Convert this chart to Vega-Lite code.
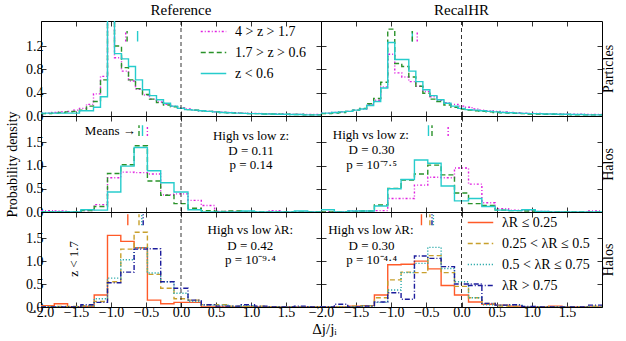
{
"$schema": "https://vega.github.io/schema/vega-lite/v6.json",
"padding": {"left": 5, "top": 2, "right": 2, "bottom": 2},
"title": {"text": "Δj/jᵢ", "orient": "bottom", "anchor": "middle", "fontSize": 15, "offset": 2, "dx": 14},
"datasets": {
"h": [
{"p":"1L","s":"a","x":-2,"y":0.05},{"p":"1L","s":"a","x":-1.85,"y":0.06},{"p":"1L","s":"a","x":-1.75,"y":0.07},{"p":"1L","s":"a","x":-1.65,"y":0.08},{"p":"1L","s":"a","x":-1.55,"y":0.1},{"p":"1L","s":"a","x":-1.45,"y":0.13},{"p":"1L","s":"a","x":-1.35,"y":0.2},{"p":"1L","s":"a","x":-1.25,"y":0.38},{"p":"1L","s":"a","x":-1.15,"y":0.68},{"p":"1L","s":"a","x":-1.05,"y":2.6},{"p":"1L","s":"a","x":-0.95,"y":1.0},{"p":"1L","s":"a","x":-0.85,"y":0.77},{"p":"1L","s":"a","x":-0.75,"y":0.6},{"p":"1L","s":"a","x":-0.65,"y":0.46},{"p":"1L","s":"a","x":-0.55,"y":0.36},{"p":"1L","s":"a","x":-0.45,"y":0.29},{"p":"1L","s":"a","x":-0.35,"y":0.24},{"p":"1L","s":"a","x":-0.25,"y":0.2},{"p":"1L","s":"a","x":-0.15,"y":0.17},{"p":"1L","s":"a","x":-0.05,"y":0.14},{"p":"1L","s":"a","x":0.05,"y":0.12},{"p":"1L","s":"a","x":0.15,"y":0.1},{"p":"1L","s":"a","x":0.25,"y":0.09},{"p":"1L","s":"a","x":0.35,"y":0.08},{"p":"1L","s":"a","x":0.45,"y":0.07},{"p":"1L","s":"a","x":0.55,"y":0.065},{"p":"1L","s":"a","x":0.65,"y":0.06},{"p":"1L","s":"a","x":0.75,"y":0.055},{"p":"1L","s":"a","x":0.85,"y":0.05},{"p":"1L","s":"a","x":0.95,"y":0.045},{"p":"1L","s":"a","x":1.15,"y":0.04},{"p":"1L","s":"a","x":1.35,"y":0.035},{"p":"1L","s":"a","x":1.55,"y":0.03},{"p":"1L","s":"a","x":1.75,"y":0.025},{"p":"1L","s":"a","x":2,"y":0.025},
{"p":"1L","s":"b","x":-2,"y":0.04},{"p":"1L","s":"b","x":-1.85,"y":0.05},{"p":"1L","s":"b","x":-1.75,"y":0.06},{"p":"1L","s":"b","x":-1.65,"y":0.07},{"p":"1L","s":"b","x":-1.55,"y":0.08},{"p":"1L","s":"b","x":-1.45,"y":0.1},{"p":"1L","s":"b","x":-1.35,"y":0.17},{"p":"1L","s":"b","x":-1.25,"y":0.25},{"p":"1L","s":"b","x":-1.15,"y":0.62},{"p":"1L","s":"b","x":-1.05,"y":2.6},{"p":"1L","s":"b","x":-0.95,"y":1.2},{"p":"1L","s":"b","x":-0.85,"y":0.83},{"p":"1L","s":"b","x":-0.75,"y":0.62},{"p":"1L","s":"b","x":-0.65,"y":0.47},{"p":"1L","s":"b","x":-0.55,"y":0.37},{"p":"1L","s":"b","x":-0.45,"y":0.29},{"p":"1L","s":"b","x":-0.35,"y":0.23},{"p":"1L","s":"b","x":-0.25,"y":0.19},{"p":"1L","s":"b","x":-0.15,"y":0.16},{"p":"1L","s":"b","x":-0.05,"y":0.13},{"p":"1L","s":"b","x":0.05,"y":0.11},{"p":"1L","s":"b","x":0.15,"y":0.1},{"p":"1L","s":"b","x":0.25,"y":0.09},{"p":"1L","s":"b","x":0.35,"y":0.08},{"p":"1L","s":"b","x":0.45,"y":0.07},{"p":"1L","s":"b","x":0.55,"y":0.06},{"p":"1L","s":"b","x":0.65,"y":0.055},{"p":"1L","s":"b","x":0.75,"y":0.05},{"p":"1L","s":"b","x":0.85,"y":0.045},{"p":"1L","s":"b","x":0.95,"y":0.04},{"p":"1L","s":"b","x":1.15,"y":0.035},{"p":"1L","s":"b","x":1.35,"y":0.03},{"p":"1L","s":"b","x":1.55,"y":0.025},{"p":"1L","s":"b","x":1.75,"y":0.02},{"p":"1L","s":"b","x":2,"y":0.02},
{"p":"1L","s":"c","x":-2,"y":0.05},{"p":"1L","s":"c","x":-1.45,"y":0.09},{"p":"1L","s":"c","x":-1.25,"y":0.15},{"p":"1L","s":"c","x":-1.15,"y":0.33},{"p":"1L","s":"c","x":-1.05,"y":2.6},{"p":"1L","s":"c","x":-0.95,"y":1.07},{"p":"1L","s":"c","x":-0.85,"y":0.98},{"p":"1L","s":"c","x":-0.75,"y":0.85},{"p":"1L","s":"c","x":-0.65,"y":0.62},{"p":"1L","s":"c","x":-0.55,"y":0.45},{"p":"1L","s":"c","x":-0.45,"y":0.35},{"p":"1L","s":"c","x":-0.35,"y":0.28},{"p":"1L","s":"c","x":-0.25,"y":0.22},{"p":"1L","s":"c","x":-0.15,"y":0.17},{"p":"1L","s":"c","x":-0.05,"y":0.13},{"p":"1L","s":"c","x":0.05,"y":0.11},{"p":"1L","s":"c","x":0.15,"y":0.1},{"p":"1L","s":"c","x":0.25,"y":0.09},{"p":"1L","s":"c","x":0.35,"y":0.08},{"p":"1L","s":"c","x":0.45,"y":0.07},{"p":"1L","s":"c","x":0.55,"y":0.06},{"p":"1L","s":"c","x":0.65,"y":0.055},{"p":"1L","s":"c","x":0.75,"y":0.05},{"p":"1L","s":"c","x":0.85,"y":0.045},{"p":"1L","s":"c","x":0.95,"y":0.04},{"p":"1L","s":"c","x":1.15,"y":0.035},{"p":"1L","s":"c","x":1.35,"y":0.03},{"p":"1L","s":"c","x":1.55,"y":0.025},{"p":"1L","s":"c","x":1.75,"y":0.02},{"p":"1L","s":"c","x":2,"y":0.02},

{"p":"1R","s":"a","x":-2,"y":0.05},{"p":"1R","s":"a","x":-1.85,"y":0.06},{"p":"1R","s":"a","x":-1.75,"y":0.07},{"p":"1R","s":"a","x":-1.65,"y":0.08},{"p":"1R","s":"a","x":-1.55,"y":0.1},{"p":"1R","s":"a","x":-1.45,"y":0.12},{"p":"1R","s":"a","x":-1.35,"y":0.2},{"p":"1R","s":"a","x":-1.25,"y":0.27},{"p":"1R","s":"a","x":-1.15,"y":0.5},{"p":"1R","s":"a","x":-1.05,"y":1.06},{"p":"1R","s":"a","x":-0.95,"y":0.74},{"p":"1R","s":"a","x":-0.85,"y":0.67},{"p":"1R","s":"a","x":-0.75,"y":0.59},{"p":"1R","s":"a","x":-0.65,"y":0.51},{"p":"1R","s":"a","x":-0.55,"y":0.42},{"p":"1R","s":"a","x":-0.45,"y":0.33},{"p":"1R","s":"a","x":-0.35,"y":0.27},{"p":"1R","s":"a","x":-0.25,"y":0.23},{"p":"1R","s":"a","x":-0.15,"y":0.2},{"p":"1R","s":"a","x":-0.05,"y":0.17},{"p":"1R","s":"a","x":0.05,"y":0.15},{"p":"1R","s":"a","x":0.15,"y":0.12},{"p":"1R","s":"a","x":0.25,"y":0.1},{"p":"1R","s":"a","x":0.35,"y":0.09},{"p":"1R","s":"a","x":0.45,"y":0.08},{"p":"1R","s":"a","x":0.55,"y":0.07},{"p":"1R","s":"a","x":0.65,"y":0.06},{"p":"1R","s":"a","x":0.75,"y":0.055},{"p":"1R","s":"a","x":0.85,"y":0.05},{"p":"1R","s":"a","x":0.95,"y":0.045},{"p":"1R","s":"a","x":1.15,"y":0.04},{"p":"1R","s":"a","x":1.35,"y":0.035},{"p":"1R","s":"a","x":1.55,"y":0.03},{"p":"1R","s":"a","x":1.75,"y":0.025},{"p":"1R","s":"a","x":2,"y":0.025},
{"p":"1R","s":"b","x":-2,"y":0.04},{"p":"1R","s":"b","x":-1.85,"y":0.05},{"p":"1R","s":"b","x":-1.75,"y":0.06},{"p":"1R","s":"b","x":-1.65,"y":0.08},{"p":"1R","s":"b","x":-1.55,"y":0.1},{"p":"1R","s":"b","x":-1.45,"y":0.13},{"p":"1R","s":"b","x":-1.35,"y":0.21},{"p":"1R","s":"b","x":-1.25,"y":0.3},{"p":"1R","s":"b","x":-1.15,"y":0.58},{"p":"1R","s":"b","x":-1.05,"y":1.49},{"p":"1R","s":"b","x":-0.95,"y":0.9},{"p":"1R","s":"b","x":-0.85,"y":0.85},{"p":"1R","s":"b","x":-0.75,"y":0.67},{"p":"1R","s":"b","x":-0.65,"y":0.51},{"p":"1R","s":"b","x":-0.55,"y":0.39},{"p":"1R","s":"b","x":-0.45,"y":0.29},{"p":"1R","s":"b","x":-0.35,"y":0.25},{"p":"1R","s":"b","x":-0.25,"y":0.19},{"p":"1R","s":"b","x":-0.15,"y":0.15},{"p":"1R","s":"b","x":-0.05,"y":0.12},{"p":"1R","s":"b","x":0.05,"y":0.1},{"p":"1R","s":"b","x":0.15,"y":0.09},{"p":"1R","s":"b","x":0.25,"y":0.08},{"p":"1R","s":"b","x":0.35,"y":0.07},{"p":"1R","s":"b","x":0.45,"y":0.06},{"p":"1R","s":"b","x":0.55,"y":0.055},{"p":"1R","s":"b","x":0.65,"y":0.05},{"p":"1R","s":"b","x":0.75,"y":0.045},{"p":"1R","s":"b","x":0.85,"y":0.04},{"p":"1R","s":"b","x":0.95,"y":0.035},{"p":"1R","s":"b","x":1.15,"y":0.03},{"p":"1R","s":"b","x":1.35,"y":0.025},{"p":"1R","s":"b","x":1.55,"y":0.02},{"p":"1R","s":"b","x":2,"y":0.02},
{"p":"1R","s":"c","x":-2,"y":0.05},{"p":"1R","s":"c","x":-1.85,"y":0.06},{"p":"1R","s":"c","x":-1.75,"y":0.07},{"p":"1R","s":"c","x":-1.65,"y":0.08},{"p":"1R","s":"c","x":-1.55,"y":0.1},{"p":"1R","s":"c","x":-1.45,"y":0.12},{"p":"1R","s":"c","x":-1.35,"y":0.18},{"p":"1R","s":"c","x":-1.25,"y":0.25},{"p":"1R","s":"c","x":-1.15,"y":0.48},{"p":"1R","s":"c","x":-1.05,"y":1.26},{"p":"1R","s":"c","x":-0.95,"y":0.97},{"p":"1R","s":"c","x":-0.85,"y":0.97},{"p":"1R","s":"c","x":-0.75,"y":0.77},{"p":"1R","s":"c","x":-0.65,"y":0.59},{"p":"1R","s":"c","x":-0.55,"y":0.45},{"p":"1R","s":"c","x":-0.45,"y":0.35},{"p":"1R","s":"c","x":-0.35,"y":0.28},{"p":"1R","s":"c","x":-0.25,"y":0.22},{"p":"1R","s":"c","x":-0.15,"y":0.17},{"p":"1R","s":"c","x":-0.05,"y":0.13},{"p":"1R","s":"c","x":0.05,"y":0.11},{"p":"1R","s":"c","x":0.15,"y":0.1},{"p":"1R","s":"c","x":0.25,"y":0.09},{"p":"1R","s":"c","x":0.35,"y":0.08},{"p":"1R","s":"c","x":0.45,"y":0.07},{"p":"1R","s":"c","x":0.55,"y":0.06},{"p":"1R","s":"c","x":0.65,"y":0.055},{"p":"1R","s":"c","x":0.75,"y":0.05},{"p":"1R","s":"c","x":0.85,"y":0.045},{"p":"1R","s":"c","x":0.95,"y":0.04},{"p":"1R","s":"c","x":1.15,"y":0.035},{"p":"1R","s":"c","x":1.35,"y":0.03},{"p":"1R","s":"c","x":1.55,"y":0.025},{"p":"1R","s":"c","x":1.75,"y":0.02},{"p":"1R","s":"c","x":2,"y":0.02},

{"p":"2L","s":"a","x":-2,"y":0.03},{"p":"2L","s":"a","x":-1.81,"y":0.02},{"p":"2L","s":"a","x":-1.62,"y":0},{"p":"2L","s":"a","x":-1.43,"y":0.03},{"p":"2L","s":"a","x":-1.24,"y":0.16},{"p":"2L","s":"a","x":-1.05,"y":0.74},{"p":"2L","s":"a","x":-0.86,"y":0.86},{"p":"2L","s":"a","x":-0.67,"y":0.85},{"p":"2L","s":"a","x":-0.48,"y":0.82},{"p":"2L","s":"a","x":-0.29,"y":0.37},{"p":"2L","s":"a","x":-0.1,"y":0.39},{"p":"2L","s":"a","x":0.1,"y":0.25},{"p":"2L","s":"a","x":0.29,"y":0.14},{"p":"2L","s":"a","x":0.48,"y":0.01},{"p":"2L","s":"a","x":0.86,"y":0},{"p":"2L","s":"a","x":1.24,"y":0.03},{"p":"2L","s":"a","x":1.43,"y":0},{"p":"2L","s":"a","x":2,"y":0},
{"p":"2L","s":"b","x":-2,"y":0},{"p":"2L","s":"b","x":-1.43,"y":0.03},{"p":"2L","s":"b","x":-1.24,"y":0.12},{"p":"2L","s":"b","x":-1.05,"y":0.83},{"p":"2L","s":"b","x":-0.86,"y":1.02},{"p":"2L","s":"b","x":-0.67,"y":1.43},{"p":"2L","s":"b","x":-0.48,"y":0.67},{"p":"2L","s":"b","x":-0.29,"y":0.36},{"p":"2L","s":"b","x":-0.1,"y":0.18},{"p":"2L","s":"b","x":0.1,"y":0.08},{"p":"2L","s":"b","x":0.29,"y":0.03},{"p":"2L","s":"b","x":0.48,"y":0.01},{"p":"2L","s":"b","x":0.67,"y":0.02},{"p":"2L","s":"b","x":0.86,"y":0},{"p":"2L","s":"b","x":2,"y":0},
{"p":"2L","s":"c","x":-2,"y":0},{"p":"2L","s":"c","x":-1.43,"y":0.05},{"p":"2L","s":"c","x":-1.24,"y":0.04},{"p":"2L","s":"c","x":-1.05,"y":0.43},{"p":"2L","s":"c","x":-0.86,"y":0.99},{"p":"2L","s":"c","x":-0.67,"y":1.39},{"p":"2L","s":"c","x":-0.48,"y":0.89},{"p":"2L","s":"c","x":-0.29,"y":0.63},{"p":"2L","s":"c","x":-0.1,"y":0.43},{"p":"2L","s":"c","x":0.1,"y":0.05},{"p":"2L","s":"c","x":0.29,"y":0},{"p":"2L","s":"c","x":0.86,"y":0.02},{"p":"2L","s":"c","x":1.05,"y":0},{"p":"2L","s":"c","x":1.62,"y":0.02},{"p":"2L","s":"c","x":1.81,"y":0},{"p":"2L","s":"c","x":2,"y":0},

{"p":"2R","s":"a","x":-2,"y":0},{"p":"2R","s":"a","x":-1.62,"y":0.02},{"p":"2R","s":"a","x":-1.24,"y":0.03},{"p":"2R","s":"a","x":-1.05,"y":0.29},{"p":"2R","s":"a","x":-0.86,"y":0.29},{"p":"2R","s":"a","x":-0.67,"y":0.58},{"p":"2R","s":"a","x":-0.48,"y":0.75},{"p":"2R","s":"a","x":-0.29,"y":0.74},{"p":"2R","s":"a","x":-0.1,"y":0.95},{"p":"2R","s":"a","x":0.1,"y":0.6},{"p":"2R","s":"a","x":0.29,"y":0.2},{"p":"2R","s":"a","x":0.48,"y":0.07},{"p":"2R","s":"a","x":0.67,"y":0.04},{"p":"2R","s":"a","x":0.86,"y":0.03},{"p":"2R","s":"a","x":1.05,"y":0.01},{"p":"2R","s":"a","x":1.24,"y":0},{"p":"2R","s":"a","x":1.81,"y":0.02},{"p":"2R","s":"a","x":2,"y":0.02},
{"p":"2R","s":"b","x":-2,"y":0},{"p":"2R","s":"b","x":-1.43,"y":0.02},{"p":"2R","s":"b","x":-1.24,"y":0.15},{"p":"2R","s":"b","x":-1.05,"y":0.51},{"p":"2R","s":"b","x":-0.86,"y":0.69},{"p":"2R","s":"b","x":-0.67,"y":0.82},{"p":"2R","s":"b","x":-0.48,"y":1.01},{"p":"2R","s":"b","x":-0.29,"y":0.8},{"p":"2R","s":"b","x":-0.1,"y":0.41},{"p":"2R","s":"b","x":0.1,"y":0.18},{"p":"2R","s":"b","x":0.29,"y":0.14},{"p":"2R","s":"b","x":0.48,"y":0.04},{"p":"2R","s":"b","x":0.67,"y":0.03},{"p":"2R","s":"b","x":0.86,"y":0.02},{"p":"2R","s":"b","x":1.05,"y":0},{"p":"2R","s":"b","x":2,"y":0},
{"p":"2R","s":"c","x":-2,"y":0.05},{"p":"2R","s":"c","x":-1.81,"y":0},{"p":"2R","s":"c","x":-1.62,"y":0.02},{"p":"2R","s":"c","x":-1.24,"y":0.13},{"p":"2R","s":"c","x":-1.05,"y":0.5},{"p":"2R","s":"c","x":-0.86,"y":0.7},{"p":"2R","s":"c","x":-0.67,"y":1.12},{"p":"2R","s":"c","x":-0.48,"y":1.05},{"p":"2R","s":"c","x":-0.29,"y":0.56},{"p":"2R","s":"c","x":-0.1,"y":0.24},{"p":"2R","s":"c","x":0.1,"y":0.29},{"p":"2R","s":"c","x":0.29,"y":0.12},{"p":"2R","s":"c","x":0.48,"y":0.04},{"p":"2R","s":"c","x":0.67,"y":0.03},{"p":"2R","s":"c","x":0.86,"y":0.05},{"p":"2R","s":"c","x":1.05,"y":0.01},{"p":"2R","s":"c","x":1.24,"y":0},{"p":"2R","s":"c","x":2,"y":0},

{"p":"3L","s":"d","x":-2,"y":0.03},{"p":"3L","s":"d","x":-1.81,"y":0.07},{"p":"3L","s":"d","x":-1.62,"y":0},{"p":"3L","s":"d","x":-1.43,"y":0.01},{"p":"3L","s":"d","x":-1.24,"y":0.26},{"p":"3L","s":"d","x":-1.05,"y":1.56},{"p":"3L","s":"d","x":-0.86,"y":1.43},{"p":"3L","s":"d","x":-0.67,"y":1.29},{"p":"3L","s":"d","x":-0.48,"y":0.15},{"p":"3L","s":"d","x":-0.29,"y":0.07},{"p":"3L","s":"d","x":-0.1,"y":0.1},{"p":"3L","s":"d","x":0.1,"y":0.1},{"p":"3L","s":"d","x":0.29,"y":0},{"p":"3L","s":"d","x":2,"y":0},
{"p":"3L","s":"e","x":-2,"y":0.01},{"p":"3L","s":"e","x":-1.43,"y":0.03},{"p":"3L","s":"e","x":-1.24,"y":0.12},{"p":"3L","s":"e","x":-1.05,"y":0.55},{"p":"3L","s":"e","x":-0.86,"y":1.26},{"p":"3L","s":"e","x":-0.67,"y":1.63},{"p":"3L","s":"e","x":-0.48,"y":0.71},{"p":"3L","s":"e","x":-0.29,"y":0.41},{"p":"3L","s":"e","x":-0.1,"y":0.18},{"p":"3L","s":"e","x":0.1,"y":0.15},{"p":"3L","s":"e","x":0.29,"y":0.05},{"p":"3L","s":"e","x":0.48,"y":0.05},{"p":"3L","s":"e","x":0.67,"y":0.02},{"p":"3L","s":"e","x":0.86,"y":0.01},{"p":"3L","s":"e","x":1.05,"y":0.02},{"p":"3L","s":"e","x":1.24,"y":0},{"p":"3L","s":"e","x":2,"y":0},
{"p":"3L","s":"f","x":-2,"y":0},{"p":"3L","s":"f","x":-1.43,"y":0.02},{"p":"3L","s":"f","x":-1.24,"y":0.18},{"p":"3L","s":"f","x":-1.05,"y":0.63},{"p":"3L","s":"f","x":-0.86,"y":1.03},{"p":"3L","s":"f","x":-0.67,"y":1.29},{"p":"3L","s":"f","x":-0.48,"y":0.74},{"p":"3L","s":"f","x":-0.29,"y":0.55},{"p":"3L","s":"f","x":-0.1,"y":0.3},{"p":"3L","s":"f","x":0.1,"y":0.12},{"p":"3L","s":"f","x":0.29,"y":0.04},{"p":"3L","s":"f","x":0.48,"y":0.04},{"p":"3L","s":"f","x":0.67,"y":0.01},{"p":"3L","s":"f","x":0.86,"y":0.03},{"p":"3L","s":"f","x":1.05,"y":0},{"p":"3L","s":"f","x":2,"y":0},
{"p":"3L","s":"g","x":-2,"y":0},{"p":"3L","s":"g","x":-1.43,"y":0.05},{"p":"3L","s":"g","x":-1.24,"y":0.1},{"p":"3L","s":"g","x":-1.05,"y":0.53},{"p":"3L","s":"g","x":-0.86,"y":0.76},{"p":"3L","s":"g","x":-0.67,"y":1.26},{"p":"3L","s":"g","x":-0.48,"y":1.27},{"p":"3L","s":"g","x":-0.29,"y":0.55},{"p":"3L","s":"g","x":-0.1,"y":0.41},{"p":"3L","s":"g","x":0.1,"y":0.15},{"p":"3L","s":"g","x":0.29,"y":0.05},{"p":"3L","s":"g","x":0.48,"y":0.02},{"p":"3L","s":"g","x":0.67,"y":0.02},{"p":"3L","s":"g","x":0.86,"y":0.05},{"p":"3L","s":"g","x":1.05,"y":0.02},{"p":"3L","s":"g","x":1.24,"y":0},{"p":"3L","s":"g","x":1.62,"y":0.02},{"p":"3L","s":"g","x":1.81,"y":0},{"p":"3L","s":"g","x":2,"y":0},

{"p":"3R","s":"d","x":-2,"y":0},{"p":"3R","s":"d","x":-1.62,"y":0.02},{"p":"3R","s":"d","x":-1.43,"y":0.03},{"p":"3R","s":"d","x":-1.24,"y":0.26},{"p":"3R","s":"d","x":-1.05,"y":0.92},{"p":"3R","s":"d","x":-0.86,"y":0.93},{"p":"3R","s":"d","x":-0.67,"y":1.0},{"p":"3R","s":"d","x":-0.48,"y":0.83},{"p":"3R","s":"d","x":-0.29,"y":0.47},{"p":"3R","s":"d","x":-0.1,"y":0.26},{"p":"3R","s":"d","x":0.1,"y":0.11},{"p":"3R","s":"d","x":0.29,"y":0.06},{"p":"3R","s":"d","x":0.48,"y":0.04},{"p":"3R","s":"d","x":0.67,"y":0.02},{"p":"3R","s":"d","x":0.86,"y":0},{"p":"3R","s":"d","x":1.24,"y":0.02},{"p":"3R","s":"d","x":1.43,"y":0},{"p":"3R","s":"d","x":2,"y":0},
{"p":"3R","s":"e","x":-2,"y":0},{"p":"3R","s":"e","x":-1.62,"y":0.02},{"p":"3R","s":"e","x":-1.43,"y":0.03},{"p":"3R","s":"e","x":-1.24,"y":0.2},{"p":"3R","s":"e","x":-1.05,"y":0.59},{"p":"3R","s":"e","x":-0.86,"y":0.76},{"p":"3R","s":"e","x":-0.67,"y":0.75},{"p":"3R","s":"e","x":-0.48,"y":1.12},{"p":"3R","s":"e","x":-0.29,"y":0.75},{"p":"3R","s":"e","x":-0.1,"y":0.45},{"p":"3R","s":"e","x":0.1,"y":0.2},{"p":"3R","s":"e","x":0.29,"y":0.08},{"p":"3R","s":"e","x":0.48,"y":0.02},{"p":"3R","s":"e","x":0.67,"y":0},{"p":"3R","s":"e","x":1.81,"y":0.02},{"p":"3R","s":"e","x":2,"y":0.02},
{"p":"3R","s":"f","x":-2,"y":0},{"p":"3R","s":"f","x":-1.43,"y":0.02},{"p":"3R","s":"f","x":-1.24,"y":0.1},{"p":"3R","s":"f","x":-1.05,"y":0.37},{"p":"3R","s":"f","x":-0.86,"y":0.75},{"p":"3R","s":"f","x":-0.67,"y":0.95},{"p":"3R","s":"f","x":-0.48,"y":1.3},{"p":"3R","s":"f","x":-0.29,"y":0.84},{"p":"3R","s":"f","x":-0.1,"y":0.55},{"p":"3R","s":"f","x":0.1,"y":0.2},{"p":"3R","s":"f","x":0.29,"y":0.05},{"p":"3R","s":"f","x":0.48,"y":0.04},{"p":"3R","s":"f","x":0.67,"y":0.04},{"p":"3R","s":"f","x":0.86,"y":0},{"p":"3R","s":"f","x":2,"y":0},
{"p":"3R","s":"g","x":-2,"y":0},{"p":"3R","s":"g","x":-1.81,"y":0.06},{"p":"3R","s":"g","x":-1.62,"y":0},{"p":"3R","s":"g","x":-1.43,"y":0.02},{"p":"3R","s":"g","x":-1.24,"y":0.11},{"p":"3R","s":"g","x":-1.05,"y":0.31},{"p":"3R","s":"g","x":-0.86,"y":0.17},{"p":"3R","s":"g","x":-0.67,"y":1.11},{"p":"3R","s":"g","x":-0.48,"y":1.06},{"p":"3R","s":"g","x":-0.29,"y":0.88},{"p":"3R","s":"g","x":-0.1,"y":0.5},{"p":"3R","s":"g","x":0.1,"y":0.5},{"p":"3R","s":"g","x":0.29,"y":0.08},{"p":"3R","s":"g","x":0.48,"y":0.04},{"p":"3R","s":"g","x":0.67,"y":0.05},{"p":"3R","s":"g","x":0.86,"y":0.01},{"p":"3R","s":"g","x":1.05,"y":0},{"p":"3R","s":"g","x":1.81,"y":0.04},{"p":"3R","s":"g","x":2,"y":0.04}
],
"m": [
{"p":"1L","s":"a","x":-0.79,"y":1.28,"y2":1.46},{"p":"1L","s":"b","x":-0.77,"y":1.28,"y2":1.46},{"p":"1L","s":"c","x":-0.62,"y":1.28,"y2":1.46},
{"p":"1R","s":"c","x":-0.7,"y":1.28,"y2":1.46},{"p":"1R","s":"b","x":-0.7,"y":1.28,"y2":1.46},{"p":"1R","s":"a","x":-0.63,"y":1.28,"y2":1.46},
{"p":"2L","s":"b","x":-0.6,"y":1.64,"y2":1.87},{"p":"2L","s":"c","x":-0.55,"y":1.64,"y2":1.87},{"p":"2L","s":"a","x":-0.48,"y":1.64,"y2":1.87},
{"p":"2R","s":"c","x":-0.47,"y":1.64,"y2":1.87},{"p":"2R","s":"b","x":-0.42,"y":1.64,"y2":1.87},{"p":"2R","s":"a","x":-0.19,"y":1.64,"y2":1.87},
{"p":"3L","s":"d","x":-0.76,"y":1.78,"y2":2.02},{"p":"3L","s":"e","x":-0.6,"y":1.78,"y2":2.02},{"p":"3L","s":"f","x":-0.56,"y":1.78,"y2":2.02},{"p":"3L","s":"g","x":-0.54,"y":1.78,"y2":2.02},
{"p":"3R","s":"d","x":-0.57,"y":1.78,"y2":2.02},{"p":"3R","s":"e","x":-0.45,"y":1.78,"y2":2.02},{"p":"3R","s":"g","x":-0.42,"y":1.78,"y2":2.02},{"p":"3R","s":"f","x":-0.4,"y":1.78,"y2":2.02}
],
"t": [
{"p":"2L","x":-1.01,"y":1.74,"t":"Means →"},
{"p":"2L","x":1.0,"y":1.64,"t":"High vs low z:"},{"p":"2L","x":1.0,"y":1.32,"t":"D = 0.11"},{"p":"2L","x":1.0,"y":1.02,"t":"p = 0.14"},
{"p":"2R","x":-1.29,"y":1.67,"t":"High vs low z:"},{"p":"2R","x":-1.28,"y":1.33,"t":"D = 0.30"},{"p":"2R","x":-1.28,"y":1.01,"t":"p = 10⁻⁷·⁵"},
{"p":"3L","x":0.99,"y":1.67,"t":"High vs low λR:"},{"p":"3L","x":0.99,"y":1.34,"t":"D = 0.42"},{"p":"3L","x":0.99,"y":1.03,"t":"p = 10⁻⁹·⁴"},
{"p":"3R","x":-1.29,"y":1.67,"t":"High vs low λR:"},{"p":"3R","x":-1.28,"y":1.34,"t":"D = 0.30"},{"p":"3R","x":-1.28,"y":1.03,"t":"p = 10⁻⁴·⁴"}
],
"v": [{"p":"3L","x":-1.53,"y":1.05,"t":"z < 1.7"}],
"z0": [{"x":0}]
},
"concat": [
{"width":280,"height":95,"title":{"text":"Reference","offset":0},
 "layer":[
 {"data":{"name":"h"},"transform":[{"filter":"datum.p=='1L'"}],"mark":{"type":"line","interpolate":"step-after","clip":true,"strokeWidth":1.4},
  "encoding":{"x":{"field":"x","type":"quantitative","scale":{"domain":[-2,2],"nice":false,"zero":false},"axis":{"values":[-2,-1.5,-1,-0.5,0,0.5,1,1.5],"labels":false,"title":null}},
   "y":{"field":"y","type":"quantitative","scale":{"domain":[0,1.63],"nice":false},"axis":{"values":[0,0.4,0.8,1.2],"format":".1f","title":null}},
   "color":{"field":"s","type":"nominal","scale":{"domain":["a","b","c"],"range":["#E020E0","#2A922A","#26CCCC"]},"legend":{"title":null,"orient":"none","legendX":159,"legendY":-3,"padding":0,"rowPadding":-2,"labelOffset":8,"symbolType":"stroke","symbolSize":650,"symbolStrokeWidth":1.5,"labelExpr":"{'a':'4 > z > 1.7','b':'1.7 > z > 0.6','c':'z < 0.6'}[datum.label]"}},
   "strokeDash":{"field":"s","type":"nominal","scale":{"domain":["a","b","c"],"range":[[2,2,1,2],[5,3],[1,0]]},"legend":{"title":null,"orient":"none","legendX":159,"legendY":-3,"padding":0,"rowPadding":-2,"labelOffset":8,"symbolType":"stroke","symbolSize":650,"symbolStrokeWidth":1.5,"labelExpr":"{'a':'4 > z > 1.7','b':'1.7 > z > 0.6','c':'z < 0.6'}[datum.label]"}}}},
 {"data":{"name":"m"},"transform":[{"filter":"datum.p=='1L'"}],"mark":{"type":"rule","strokeWidth":1.4},
  "encoding":{"x":{"field":"x","type":"quantitative","axis":{"orient":"top","values":[-2,-1.5,-1,-0.5,0,0.5,1,1.5],"labels":false,"title":null}},
   "y":{"field":"y","type":"quantitative","axis":{"orient":"right","values":[0,0.4,0.8,1.2],"labels":false,"title":null}},"y2":{"field":"y2"},
   "color":{"field":"s","type":"nominal","legend":null},"strokeDash":{"field":"s","type":"nominal","legend":null}}},
 {"data":{"name":"z0"},"mark":{"type":"rule","strokeDash":[4,3],"color":"black","strokeWidth":0.8},"encoding":{"x":{"field":"x","type":"quantitative","axis":null}}}
 ],
 "resolve":{"axis":{"x":"independent","y":"independent"}}},

{"width":281,"height":95,"title":"RecalHR",
 "layer":[
 {"data":{"name":"h"},"transform":[{"filter":"datum.p=='1R'"}],"mark":{"type":"line","interpolate":"step-after","clip":true,"strokeWidth":1.4},
  "encoding":{"x":{"field":"x","type":"quantitative","scale":{"domain":[-2,2],"nice":false,"zero":false},"axis":{"values":[-2,-1.5,-1,-0.5,0,0.5,1,1.5],"labels":false,"title":null}},
   "y":{"field":"y","type":"quantitative","scale":{"domain":[0,1.63],"nice":false},"axis":{"values":[0,0.4,0.8,1.2],"labels":false,"title":null}},
   "color":{"field":"s","type":"nominal","scale":{"domain":["a","b","c"],"range":["#E020E0","#2A922A","#26CCCC"]},"legend":null},
   "strokeDash":{"field":"s","type":"nominal","scale":{"domain":["a","b","c"],"range":[[2,2,1,2],[5,3],[1,0]]},"legend":null}}},
 {"data":{"name":"m"},"transform":[{"filter":"datum.p=='1R'"}],"mark":{"type":"rule","strokeWidth":1.4},
  "encoding":{"x":{"field":"x","type":"quantitative","axis":{"orient":"top","values":[-2,-1.5,-1,-0.5,0,0.5,1,1.5],"labels":false,"title":null}},
   "y":{"field":"y","type":"quantitative","axis":{"orient":"right","values":[0,0.4,0.8,1.2],"labels":false,"title":"Particles","titleAngle":270,"titlePadding":13}},"y2":{"field":"y2"},
   "color":{"field":"s","type":"nominal","legend":null},"strokeDash":{"field":"s","type":"nominal","legend":null}}},
 {"data":{"name":"z0"},"mark":{"type":"rule","strokeDash":[4,3],"color":"black","strokeWidth":0.8},"encoding":{"x":{"field":"x","type":"quantitative","axis":null}}}
 ],
 "resolve":{"axis":{"x":"independent","y":"independent"}}},

{"width":280,"height":96,
 "layer":[
 {"data":{"name":"h"},"transform":[{"filter":"datum.p=='2L'"}],"mark":{"type":"line","interpolate":"step-after","clip":true,"strokeWidth":1.4},
  "encoding":{"x":{"field":"x","type":"quantitative","scale":{"domain":[-2,2],"nice":false,"zero":false},"axis":{"values":[-2,-1.5,-1,-0.5,0,0.5,1,1.5],"labels":false,"title":null}},
   "y":{"field":"y","type":"quantitative","scale":{"domain":[0,2.07],"nice":false},"axis":{"values":[0,0.5,1,1.5],"format":".1f","title":"Probability density","titlePadding":6}},
   "color":{"field":"s","type":"nominal","scale":{"domain":["a","b","c"],"range":["#E020E0","#2A922A","#26CCCC"]},"legend":null},
   "strokeDash":{"field":"s","type":"nominal","scale":{"domain":["a","b","c"],"range":[[2,2,1,2],[5,3],[1,0]]},"legend":null}}},
 {"data":{"name":"m"},"transform":[{"filter":"datum.p=='2L'"}],"mark":{"type":"rule","strokeWidth":1.4},
  "encoding":{"x":{"field":"x","type":"quantitative","axis":{"orient":"top","values":[-2,-1.5,-1,-0.5,0,0.5,1,1.5],"labels":false,"title":null}},
   "y":{"field":"y","type":"quantitative","axis":{"orient":"right","values":[0,0.5,1,1.5],"labels":false,"title":null}},"y2":{"field":"y2"},
   "color":{"field":"s","type":"nominal","legend":null},"strokeDash":{"field":"s","type":"nominal","legend":null}}},
 {"data":{"name":"z0"},"mark":{"type":"rule","strokeDash":[4,3],"color":"black","strokeWidth":0.8},"encoding":{"x":{"field":"x","type":"quantitative","axis":null}}},
 {"data":{"name":"t"},"transform":[{"filter":"datum.p=='2L'"}],"mark":{"type":"text","fontSize":13,"fontWeight":"normal","align":"center","baseline":"middle"},
  "encoding":{"x":{"field":"x","type":"quantitative","axis":null},"y":{"field":"y","type":"quantitative","axis":null},"text":{"field":"t"}}}
 ],
 "resolve":{"axis":{"x":"independent","y":"independent"}}},

{"width":281,"height":96,
 "layer":[
 {"data":{"name":"h"},"transform":[{"filter":"datum.p=='2R'"}],"mark":{"type":"line","interpolate":"step-after","clip":true,"strokeWidth":1.4},
  "encoding":{"x":{"field":"x","type":"quantitative","scale":{"domain":[-2,2],"nice":false,"zero":false},"axis":{"values":[-2,-1.5,-1,-0.5,0,0.5,1,1.5],"labels":false,"title":null}},
   "y":{"field":"y","type":"quantitative","scale":{"domain":[0,2.07],"nice":false},"axis":{"values":[0,0.5,1,1.5],"labels":false,"title":null}},
   "color":{"field":"s","type":"nominal","scale":{"domain":["a","b","c"],"range":["#E020E0","#2A922A","#26CCCC"]},"legend":null},
   "strokeDash":{"field":"s","type":"nominal","scale":{"domain":["a","b","c"],"range":[[2,2,1,2],[5,3],[1,0]]},"legend":null}}},
 {"data":{"name":"m"},"transform":[{"filter":"datum.p=='2R'"}],"mark":{"type":"rule","strokeWidth":1.4},
  "encoding":{"x":{"field":"x","type":"quantitative","axis":{"orient":"top","values":[-2,-1.5,-1,-0.5,0,0.5,1,1.5],"labels":false,"title":null}},
   "y":{"field":"y","type":"quantitative","axis":{"orient":"right","values":[0,0.5,1,1.5],"labels":false,"title":"Halos","titleAngle":270,"titlePadding":13}},"y2":{"field":"y2"},
   "color":{"field":"s","type":"nominal","legend":null},"strokeDash":{"field":"s","type":"nominal","legend":null}}},
 {"data":{"name":"z0"},"mark":{"type":"rule","strokeDash":[4,3],"color":"black","strokeWidth":0.8},"encoding":{"x":{"field":"x","type":"quantitative","axis":null}}},
 {"data":{"name":"t"},"transform":[{"filter":"datum.p=='2R'"}],"mark":{"type":"text","fontSize":13,"fontWeight":"normal","align":"center","baseline":"middle"},
  "encoding":{"x":{"field":"x","type":"quantitative","axis":null},"y":{"field":"y","type":"quantitative","axis":null},"text":{"field":"t"}}}
 ],
 "resolve":{"axis":{"x":"independent","y":"independent"}}},

{"width":280,"height":95,
 "layer":[
 {"data":{"name":"h"},"transform":[{"filter":"datum.p=='3L'"}],"mark":{"type":"line","interpolate":"step-after","clip":true,"strokeWidth":1.4},
  "encoding":{"x":{"field":"x","type":"quantitative","scale":{"domain":[-2,2],"nice":false,"zero":false},"axis":{"values":[-2,-1.5,-1,-0.5,0,0.5,1,1.5],"format":".1f","title":null}},
   "y":{"field":"y","type":"quantitative","scale":{"domain":[0,2.07],"nice":false},"axis":{"values":[0,0.5,1,1.5],"format":".1f","title":null}},
   "color":{"field":"s","type":"nominal","scale":{"domain":["d","e","f","g"],"range":["#FF5A28","#C8A02C","#2AAAAA","#1C1C9C"]},"legend":null},
   "strokeDash":{"field":"s","type":"nominal","scale":{"domain":["d","e","f","g"],"range":[[1,0],[5,3],[1.2,1.8],[5,2,1,2]]},"legend":null}}},
 {"data":{"name":"m"},"transform":[{"filter":"datum.p=='3L'"}],"mark":{"type":"rule","strokeWidth":1.4},
  "encoding":{"x":{"field":"x","type":"quantitative","axis":{"orient":"top","values":[-2,-1.5,-1,-0.5,0,0.5,1,1.5],"labels":false,"title":null}},
   "y":{"field":"y","type":"quantitative","axis":{"orient":"right","values":[0,0.5,1,1.5],"labels":false,"title":null}},"y2":{"field":"y2"},
   "color":{"field":"s","type":"nominal","legend":null},"strokeDash":{"field":"s","type":"nominal","legend":null}}},
 {"data":{"name":"z0"},"mark":{"type":"rule","strokeDash":[4,3],"color":"black","strokeWidth":0.8},"encoding":{"x":{"field":"x","type":"quantitative","axis":null}}},
 {"data":{"name":"t"},"transform":[{"filter":"datum.p=='3L'"}],"mark":{"type":"text","fontSize":13,"fontWeight":"normal","align":"center","baseline":"middle"},
  "encoding":{"x":{"field":"x","type":"quantitative","axis":null},"y":{"field":"y","type":"quantitative","axis":null},"text":{"field":"t"}}},
 {"data":{"name":"v"},"mark":{"type":"text","fontSize":13,"fontWeight":"normal","align":"center","baseline":"middle","angle":270},
  "encoding":{"x":{"field":"x","type":"quantitative","axis":null},"y":{"field":"y","type":"quantitative","axis":null},"text":{"field":"t"}}}
 ],
 "resolve":{"axis":{"x":"independent","y":"independent"}}},

{"width":281,"height":95,
 "layer":[
 {"data":{"name":"h"},"transform":[{"filter":"datum.p=='3R'"}],"mark":{"type":"line","interpolate":"step-after","clip":true,"strokeWidth":1.4},
  "encoding":{"x":{"field":"x","type":"quantitative","scale":{"domain":[-2,2],"nice":false,"zero":false},"axis":{"values":[-2,-1.5,-1,-0.5,0,0.5,1,1.5],"format":".1f","title":null}},
   "y":{"field":"y","type":"quantitative","scale":{"domain":[0,2.07],"nice":false},"axis":{"values":[0,0.5,1,1.5],"labels":false,"title":null}},
   "color":{"field":"s","type":"nominal","scale":{"domain":["d","e","f","g"],"range":["#FF5A28","#C8A02C","#2AAAAA","#1C1C9C"]},"legend":{"title":null,"orient":"none","legendX":146,"legendY":-3,"padding":0,"rowPadding":-2,"labelOffset":8,"symbolType":"stroke","symbolSize":650,"symbolStrokeWidth":1.5,"labelExpr":"{'d':'λR ≤ 0.25','e':'0.25 < λR ≤ 0.5','f':'0.5 < λR ≤ 0.75','g':'λR > 0.75'}[datum.label]"}},
   "strokeDash":{"field":"s","type":"nominal","scale":{"domain":["d","e","f","g"],"range":[[1,0],[5,3],[1.2,1.8],[5,2,1,2]]},"legend":{"title":null,"orient":"none","legendX":146,"legendY":-3,"padding":0,"rowPadding":-2,"labelOffset":8,"symbolType":"stroke","symbolSize":650,"symbolStrokeWidth":1.5,"labelExpr":"{'d':'λR ≤ 0.25','e':'0.25 < λR ≤ 0.5','f':'0.5 < λR ≤ 0.75','g':'λR > 0.75'}[datum.label]"}}}},
 {"data":{"name":"m"},"transform":[{"filter":"datum.p=='3R'"}],"mark":{"type":"rule","strokeWidth":1.4},
  "encoding":{"x":{"field":"x","type":"quantitative","axis":{"orient":"top","values":[-2,-1.5,-1,-0.5,0,0.5,1,1.5],"labels":false,"title":null}},
   "y":{"field":"y","type":"quantitative","axis":{"orient":"right","values":[0,0.5,1,1.5],"labels":false,"title":"Halos","titleAngle":270,"titlePadding":13}},"y2":{"field":"y2"},
   "color":{"field":"s","type":"nominal","legend":null},"strokeDash":{"field":"s","type":"nominal","legend":null}}},
 {"data":{"name":"z0"},"mark":{"type":"rule","strokeDash":[4,3],"color":"black","strokeWidth":0.8},"encoding":{"x":{"field":"x","type":"quantitative","axis":null}}},
 {"data":{"name":"t"},"transform":[{"filter":"datum.p=='3R'"}],"mark":{"type":"text","fontSize":13,"fontWeight":"normal","align":"center","baseline":"middle"},
  "encoding":{"x":{"field":"x","type":"quantitative","axis":null},"y":{"field":"y","type":"quantitative","axis":null},"text":{"field":"t"}}}
 ],
 "resolve":{"axis":{"x":"independent","y":"independent"}}}
],
"columns": 2,
"spacing": 0,
"bounds": "flush",
"resolve": {"scale": {"color": "independent", "strokeDash": "independent"}, "legend": {"color": "independent", "strokeDash": "independent"}},
"config": {
 "font": "Liberation Serif",
 "background": "white",
 "view": {"stroke": "black", "strokeWidth": 1},
 "axis": {"grid": false, "domain": false, "tickColor": "black", "tickSize": -5, "tickWidth": 0.8, "labelFont": "Liberation Serif", "labelFontSize": 14, "labelColor": "black", "labelPadding": 3, "labelFlush": false, "labelOverlap": false, "titleFont": "Liberation Serif", "titleFontSize": 14, "titleFontWeight": "normal", "titleColor": "black"},
 "title": {"font": "Liberation Serif", "fontSize": 15, "fontWeight": "normal", "color": "black", "offset": 3},
 "legend": {"labelFont": "Liberation Serif", "labelFontSize": 14, "labelColor": "black"},
 "text": {"font": "Liberation Serif", "fontSize": 13, "color": "black"}
}
}
